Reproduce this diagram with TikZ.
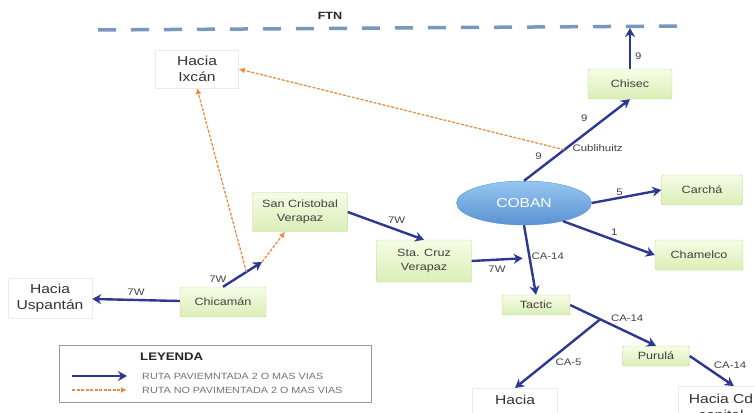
\documentclass[tikz,border=0pt]{standalone}
\usepackage{fontspec}
\newfontfamily\mapfont{Liberation Sans}[FakeStretch=1.2]
\usetikzlibrary{arrows.meta, shapes.geometric}
\definecolor{roadblue}{RGB}{43,57,144}
\definecolor{dirtorange}{RGB}{232,140,70}
\definecolor{ftnblue}{RGB}{120,152,192}
\definecolor{townlight}{RGB}{246,252,230}
\definecolor{towndark}{RGB}{218,238,182}
\definecolor{townedge}{RGB}{188,216,146}
\definecolor{hublight}{RGB}{150,198,240}
\definecolor{hubdark}{RGB}{90,146,210}
\tikzset{
    town/.style={draw=townedge, top color=townlight, bottom color=towndark, rounded corners=1.5pt,
        align=center, inner sep=2pt, text=black!75, font=\mapfont\fontsize{10.5}{13.5}\selectfont},
    dest/.style={draw=black!8, fill=white, align=center, inner sep=2pt, text=black!80,
        font=\mapfont\fontsize{13}{16.5}\selectfont},
    hub/.style={ellipse, draw=hubdark, top color=hublight, bottom color=hubdark, text=white,
        minimum width=135pt, minimum height=44pt, font=\mapfont\fontsize{13}{15}\selectfont},
    paved/.style={draw=roadblue, line width=2.4pt, -{Stealth[length=9pt, width=10pt]}},
    unpaved/.style={draw=dirtorange, line width=1.3pt, dash pattern=on 3pt off 1.5pt,
        -{Latex[length=6pt, width=6pt]}},
    ftnline/.style={draw=ftnblue, line width=3.5pt, line cap=butt, dash pattern=on 18pt off 15pt},
    lbl/.style={inner sep=1pt, text=black!75, font=\mapfont\fontsize{9.5}{11}\selectfont},
    legtxt/.style={inner sep=0pt, text=black!55, font=\mapfont\fontsize{9}{11}\selectfont},
    legtitle/.style={inner sep=0pt, text=black!85, font=\mapfont\bfseries\fontsize{11}{13}\selectfont}
}
\begin{document}
\begin{tikzpicture}[x=1pt, y=-1pt]
    \useasboundingbox (0,0) rectangle (754,412);
    % FTN
    \coordinate (ftnw) at (98,30);
    \coordinate (ftne) at (680,26);
    \coordinate (ftnhit) at (630,28);
    \draw[ftnline] (ftnw) -- (ftne);
    \node[lbl, text=black!85, font=\mapfont\bfseries\fontsize{10.5}{12}\selectfont] (ftn) at (330,16) {FTN};

    % places
    \node[dest, minimum width=83pt, minimum height=38pt] (ixcan) at (197,69) {Hacia\\Ixcán};
    \node[town, minimum width=84pt, minimum height=30pt] (chisec) at (630,84) {Chisec};
    \node[hub] (coban) at (524,203) {COBAN};
    \node[town, minimum width=81pt, minimum height=30pt] (carcha) at (702,190) {Carchá};
    \node[town, minimum width=88pt, minimum height=30pt] (chamelco) at (699,255) {Chamelco};
    \node[town, minimum width=95pt, minimum height=42pt] (stacruz) at (424,261) {Sta. Cruz\\Verapaz};
    \node[town, minimum width=95pt, minimum height=39pt] (sancris) at (300,212) {San Cristobal\\Verapaz};
    \node[town, minimum width=86pt, minimum height=30pt] (chicaman) at (223,302) {Chicamán};
    \node[dest, minimum width=84pt, minimum height=40pt] (uspantan) at (50,298) {Hacia\\Uspantán};
    \node[town, minimum width=68pt, minimum height=20pt] (tactic) at (536,305) {Tactic};
    \node[town, minimum width=67pt, minimum height=20pt] (purula) at (656,356) {Purulá};
    \node[dest, anchor=north, minimum width=85pt, minimum height=44pt] (haciaS) at (515,388) {Hacia\\\strut};
    \node[dest, anchor=north, minimum width=86pt, minimum height=44pt] (haciaCd) at (721,386) {Hacia Cd\\capital};

    % roads
    \coordinate (cmid) at (262,262);
    \draw[paved] (chicaman) -- (uspantan) node[lbl, midway, above=2pt] {7W};
    \draw[paved] (chicaman.north) -- coordinate[pos=0.6] (ixfork) (cmid)
        node[lbl, pos=0.3, left=6pt] {7W};
    \draw[unpaved] (cmid) -- (sancris);
    \draw[unpaved] (ixfork) -- (ixcan.south);
    \draw[paved] (sancris.east) -- (stacruz.north) node[lbl, midway, above right] {7W};
    \draw[paved] (coban.south) -- coordinate[pos=0.47] (ca14) (tactic.north)
        node[lbl, pos=0.45, right] {CA-14};
    \draw[paved, shorten >=7pt] (stacruz.east) -- (ca14) node[lbl, pos=0.2, below right=3pt] {7W};
    \draw[paved] (coban.north) -- coordinate[pos=0.38] (cub) (chisec.south)
        node[lbl, pos=0.3, left=12pt] {9}
        node[lbl, pos=0.77, left=16pt] {9}
        node[lbl, pos=0.4, right=4pt] {Cublihuitz};
    \draw[unpaved] (cub) -- (ixcan.east);
    \draw[paved] (chisec.north) -- (ftnhit) node[lbl, pos=0.3, right=3pt] {9};
    \draw[paved] (coban.east) -- (carcha.west) node[lbl, pos=0.4, above] {5};
    \draw[paved] (coban.-25) -- (chamelco.west) node[lbl, midway, above right] {1};
    \draw[paved] (tactic.east) -- coordinate[pos=0.35] (fork) (purula.north)
        node[lbl, pos=0.45, above right] {CA-14};
    \draw[paved] (fork) -- (haciaS.north) node[lbl, pos=0.55, below right] {CA-5};
    \draw[paved] (purula.east) -- (haciaCd.60) node[lbl, midway, above right] {CA-14};

    % legend
    \node[draw=black!40, line width=0.8pt, minimum width=312pt, minimum height=57pt] (legend) at (215,373.5) {};
    \node[legtitle, anchor=west] (leyenda) at (140,357) {LEYENDA};
    \coordinate (lgpa) at (72,376);
    \coordinate (lgpb) at (127,376);
    \coordinate (lgua) at (72,390);
    \coordinate (lgub) at (127,390);
    \draw[paved] (lgpa) -- (lgpb);
    \draw[unpaved] (lgua) -- (lgub);
    \node[legtxt, anchor=west] (lgpaved) at (142,376) {RUTA PAVIEMNTADA 2 O MAS VIAS};
    \node[legtxt, anchor=west] (lgunpaved) at (142,390) {RUTA NO PAVIMENTADA 2 O MAS VIAS};
\end{tikzpicture}
\end{document}
